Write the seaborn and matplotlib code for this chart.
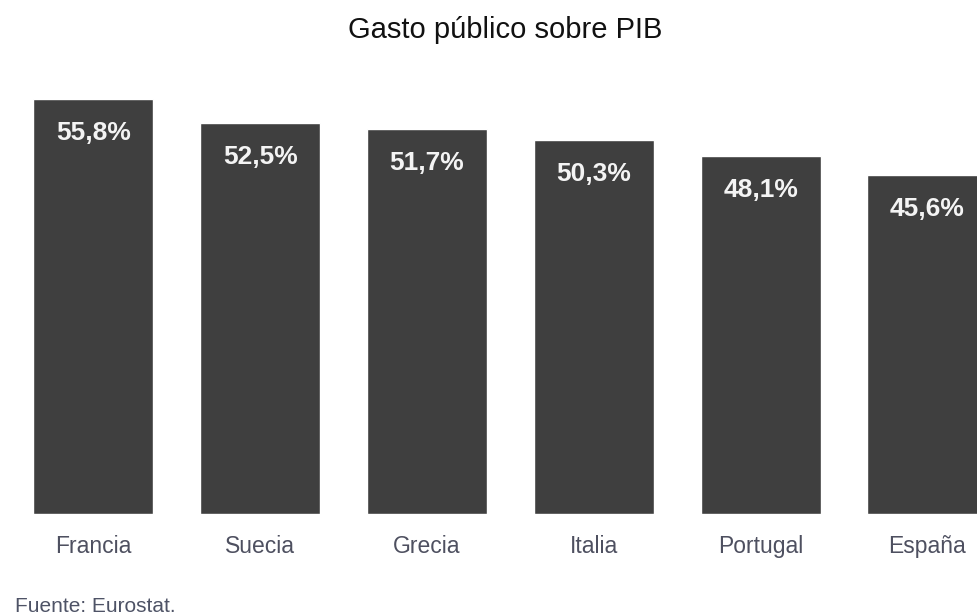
import matplotlib
matplotlib.use("Agg")
import matplotlib.pyplot as plt
import seaborn as sns
import pandas as pd

# Public spending as a share of GDP (%)
paises = ["Francia", "Suecia", "Grecia", "Italia", "Portugal", "España"]
gasto = [55.8, 52.5, 51.7, 50.3, 48.1, 45.6]
etiquetas = ["55,8%", "52,5%", "51,7%", "50,3%", "48,1%", "45,6%"]

sns.set_theme(style="white")
plt.rcParams["font.family"] = ["Liberation Sans", "DejaVu Sans"]

df = pd.DataFrame({"pais": paises, "gasto": gasto})

fig = plt.figure(figsize=(9.77, 6.16), dpi=100)
ax = fig.add_axes([0.0, 0.1656, 1.0, 0.7045])

sns.barplot(data=df, x="pais", y="gasto", color="#3f3f3f", saturation=1,
            width=0.72, ax=ax)

ax.set_xlim(-0.56, 5.297)
ax.set_ylim(0, 58.33)

for i, (v, t) in enumerate(zip(gasto, etiquetas)):
    ax.annotate(t, (i, v), xytext=(0, -24.5), textcoords="offset points",
                ha="center", va="center", color="#f4f4f4",
                fontsize=19, fontweight="bold")

for s in ax.spines.values():
    s.set_visible(False)
ax.set_yticks([])
ax.set_xlabel("")
ax.set_ylabel("")
ax.tick_params(axis="x", length=0, pad=15, labelsize=16.5, labelcolor="#4e5060")

fig.text(0.517, 0.938, "Gasto público sobre PIB", ha="center", va="baseline",
         fontsize=21, color="#111111")
fig.text(0.015, 0.007, "Fuente: Eurostat.", ha="left", va="baseline",
         fontsize=15, color="#4e5366")

fig.savefig("out.png", dpi=100)
